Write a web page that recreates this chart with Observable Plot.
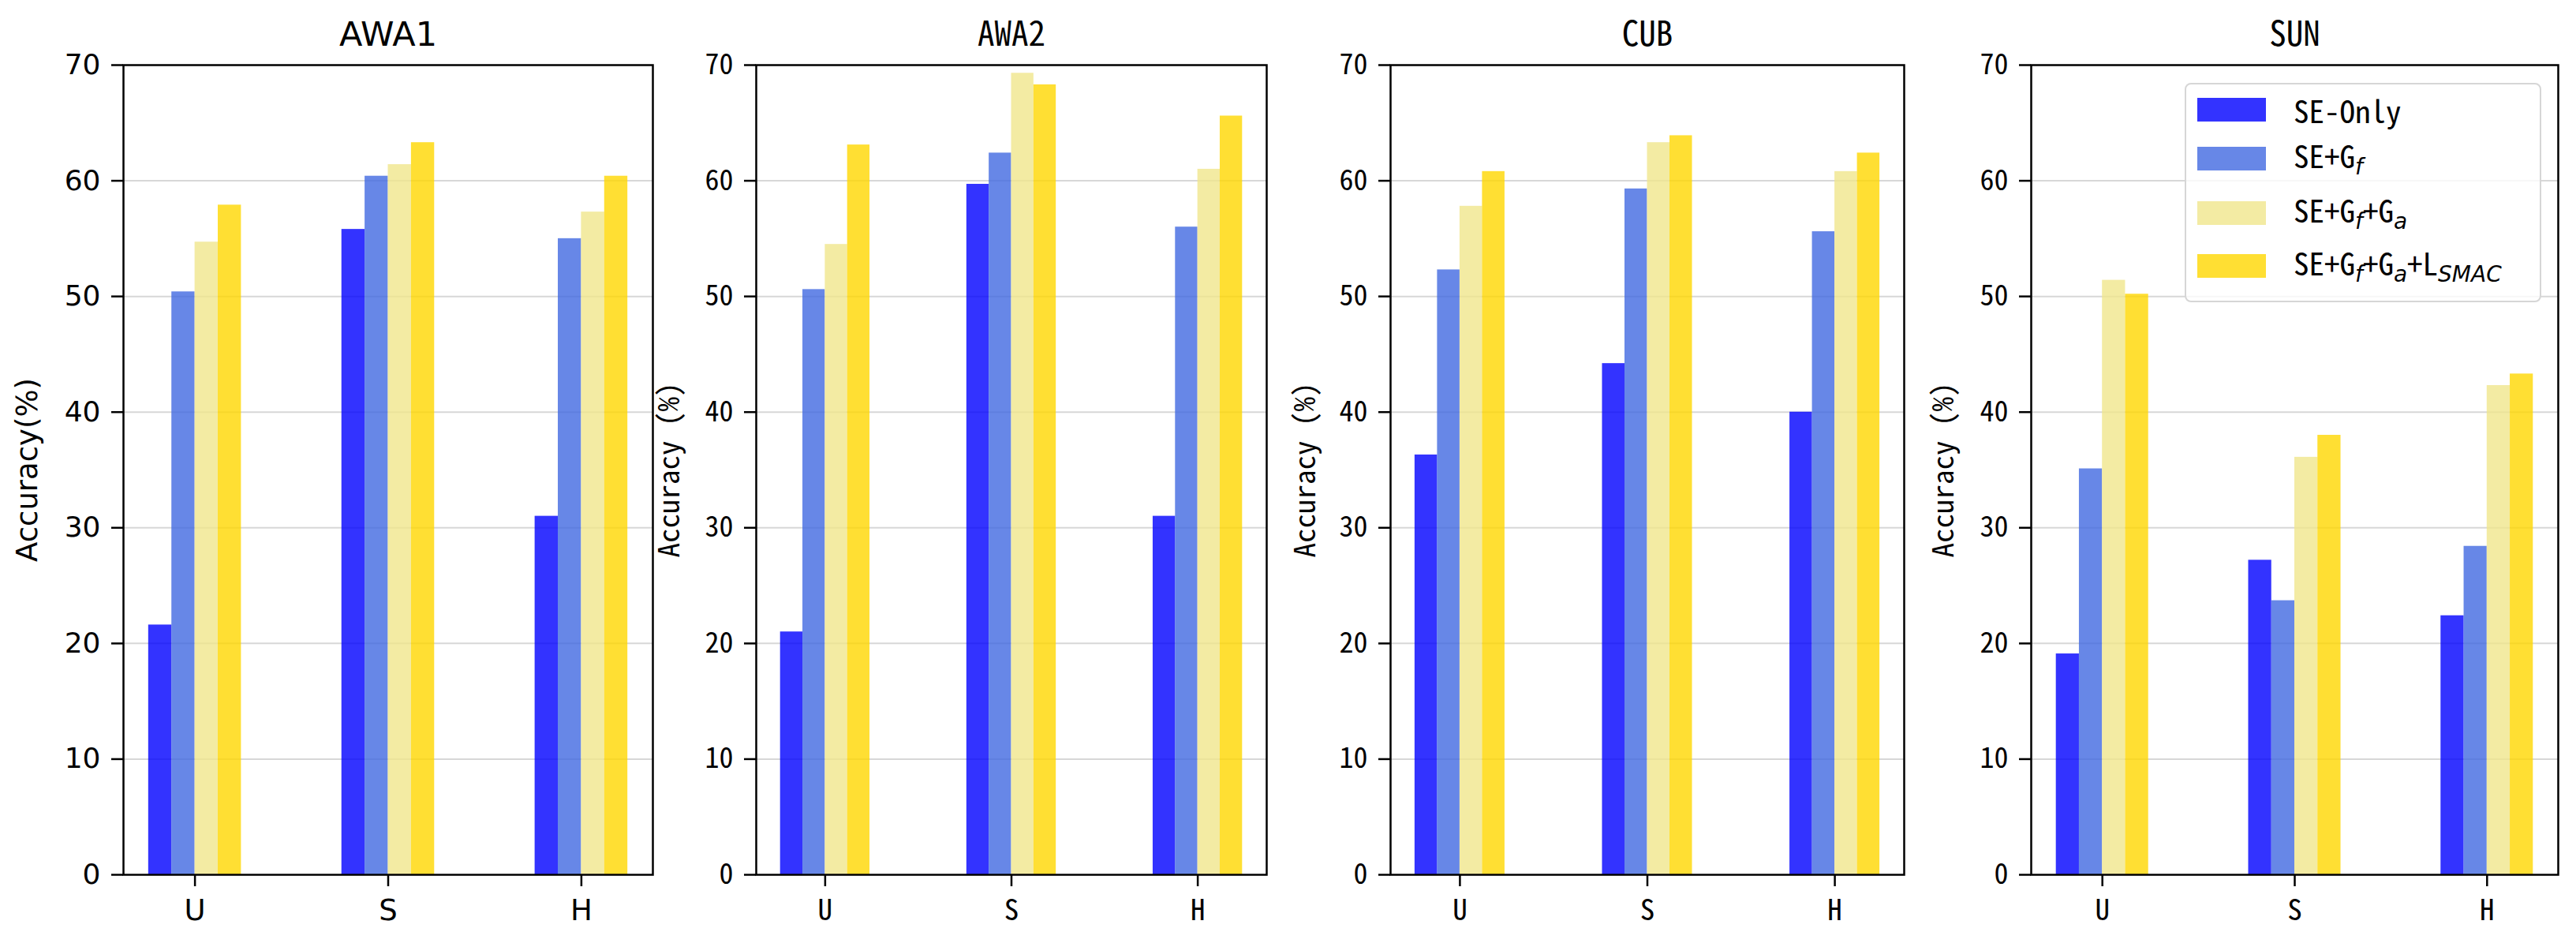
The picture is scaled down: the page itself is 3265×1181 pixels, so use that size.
<!DOCTYPE html>
<html>
<head>
<meta charset="utf-8">
<script src="https://cdn.jsdelivr.net/npm/d3@7"></script>
<script src="https://cdn.jsdelivr.net/npm/@observablehq/plot@0.6"></script>
<style>
  html, body { margin: 0; padding: 0; background: #fff; }
  #wrap { position: relative; width: 3265px; height: 1181px; overflow: hidden; background: #fff; }
  #wrap svg { position: absolute; top: 0; overflow: visible; }
  .legend { position: absolute; left: 2769px; top: 105px; width: 452px; height: 278px;
    border: 2px solid #d6d6d6; border-radius: 8px; background: rgba(255,255,255,0.8);
    box-sizing: border-box; font-family: "Noto Sans Mono CJK SC", "DejaVu Sans Mono", monospace; font-size: 39px; color: #000; }
  .legend .sw { position: absolute; left: 14px; width: 87px; height: 30px; }
  .legend .lb { position: absolute; left: 136px; line-height: 1; white-space: nowrap; transform: translateY(-50%); }
  .legend sub { font-family: "DejaVu Sans", sans-serif; font-style: italic; font-size: 28px; vertical-align: -8px; }
</style>
</head>
<body>
<div id="wrap"></div>
<script>
// ---- data ----
const categories = ["U", "S", "H"];
const seriesNames = ["SE-Only", "SE+Gf", "SE+Gf+Ga", "SE+Gf+Ga+LSMAC"];
const datasets = ["AWA1", "AWA2", "CUB", "SUN"];
const yTicks = [0, 10, 20, 30, 40, 50, 60, 70];
// rows = series (in seriesNames order), columns = U, S, H
const AWA1 = [
  [21.6, 55.8, 31.0],
  [50.4, 60.4, 55.0],
  [54.7, 61.4, 57.3],
  [57.9, 63.3, 60.4]
];
const AWA2 = [
  [21.0, 59.7, 31.0],
  [50.6, 62.4, 56.0],
  [54.5, 69.3, 61.0],
  [63.1, 68.3, 65.6]
];
const CUB = [
  [36.3, 44.2, 40.0],
  [52.3, 59.3, 55.6],
  [57.8, 63.3, 60.8],
  [60.8, 63.9, 62.4]
];
const SUN = [
  [19.1, 27.2, 22.4],
  [35.1, 23.7, 28.4],
  [51.4, 36.1, 42.3],
  [50.2, 38.0, 43.3]
];
const valuesByDataset = [AWA1, AWA2, CUB, SUN];
const seriesColors = ["blue", "royalblue", "khaki", "gold"];

// ---- layout ----
const panels = [
  {left: 156, right: 827, font: "DejaVu Sans", ylabel: "Accuracy(%)", ldx: -121},
  {left: 958, right: 1605, font: "'Noto Sans Mono CJK SC', 'DejaVu Sans Mono'", ylabel: "Accuracy (%)", ldx: -109},
  {left: 1762, right: 2413, font: "'Noto Sans Mono CJK SC', 'DejaVu Sans Mono'", ylabel: "Accuracy (%)", ldx: -107},
  {left: 2574, right: 3242, font: "'Noto Sans Mono CJK SC', 'DejaVu Sans Mono'", ylabel: "Accuracy (%)", ldx: -110}
];
const H = 1181, mTop = 82, mBottom = 73, mLeft = 150, mRight = 12;
const pIn = 0.52, pOut = 0.13;

const wrap = document.getElementById("wrap");

datasets.forEach((name, k) => {
  const p = panels[k];
  const pw = p.right - p.left;
  const step = pw / (3 - pIn + 2 * pOut);
  const barW = (1 - pIn) * step / 4;
  const vals = valuesByDataset[k];
  const rows = [];
  vals.forEach((arr, si) => arr.forEach((v, ci) => rows.push({series: seriesNames[si], si, cat: categories[ci], value: v})));

  const bars = seriesNames.map((s, si) => Plot.barY(rows.filter(d => d.si === si), {
    x: "cat", y: "value", fill: seriesColors[si], fillOpacity: 0.8,
    insetLeft: si * barW, insetRight: (3 - si) * barW
  }));

  const chart = Plot.plot({
    width: pw + mLeft + mRight,
    height: H,
    marginTop: mTop, marginBottom: mBottom, marginLeft: mLeft, marginRight: mRight,
    style: {fontFamily: p.font, background: "transparent", color: "#000", overflow: "visible"},
    x: {domain: categories, paddingInner: pIn, paddingOuter: pOut, round: false},
    y: {domain: [0, 70]},
    marks: [
      Plot.gridY(yTicks.filter(t => t > 0 && t < 70), {stroke: "#b0b0b0", strokeOpacity: 0.5, strokeWidth: 2}),
      ...bars,
      Plot.frame({stroke: "#000", strokeWidth: 2.5}),
      Plot.axisY(yTicks, {tickSize: 15, tickPadding: 14, fontSize: 36, strokeWidth: 2.5, label: null}),
      Plot.axisX({tickSize: 15, tickPadding: 16, fontSize: 37, strokeWidth: 2.5, label: null}),
      Plot.text([p.ylabel], {frameAnchor: "left", rotate: -90, dx: p.ldx, fontSize: 37, lineAnchor: "middle", textAnchor: "middle"}),
      Plot.text([name], {frameAnchor: "top", dy: -38, fontSize: 43, lineAnchor: "middle", textAnchor: "middle"})
    ]
  });
  chart.style.left = (p.left - mLeft) + "px";
  wrap.appendChild(chart);
});

// ---- legend (inside SUN panel) ----
const legendLabels = [
  "SE-Only",
  "SE+G<sub>f</sub>",
  "SE+G<sub>f</sub>+G<sub>a</sub>",
  "SE+G<sub>f</sub>+G<sub>a</sub>+L<sub>SMAC</sub>"
];
const legendRowTops = [17, 79, 148, 215];
const legend = document.createElement("div");
legend.className = "legend";
legendLabels.forEach((html, i) => {
  const sw = document.createElement("div");
  sw.className = "sw";
  sw.style.top = legendRowTops[i] + "px";
  sw.style.background = seriesColors[i];
  sw.style.opacity = 0.8;
  legend.appendChild(sw);
  const lb = document.createElement("div");
  lb.className = "lb";
  lb.style.top = (legendRowTops[i] + 15) + "px";
  lb.innerHTML = html;
  legend.appendChild(lb);
});
wrap.appendChild(legend);
</script>
</body>
</html>
